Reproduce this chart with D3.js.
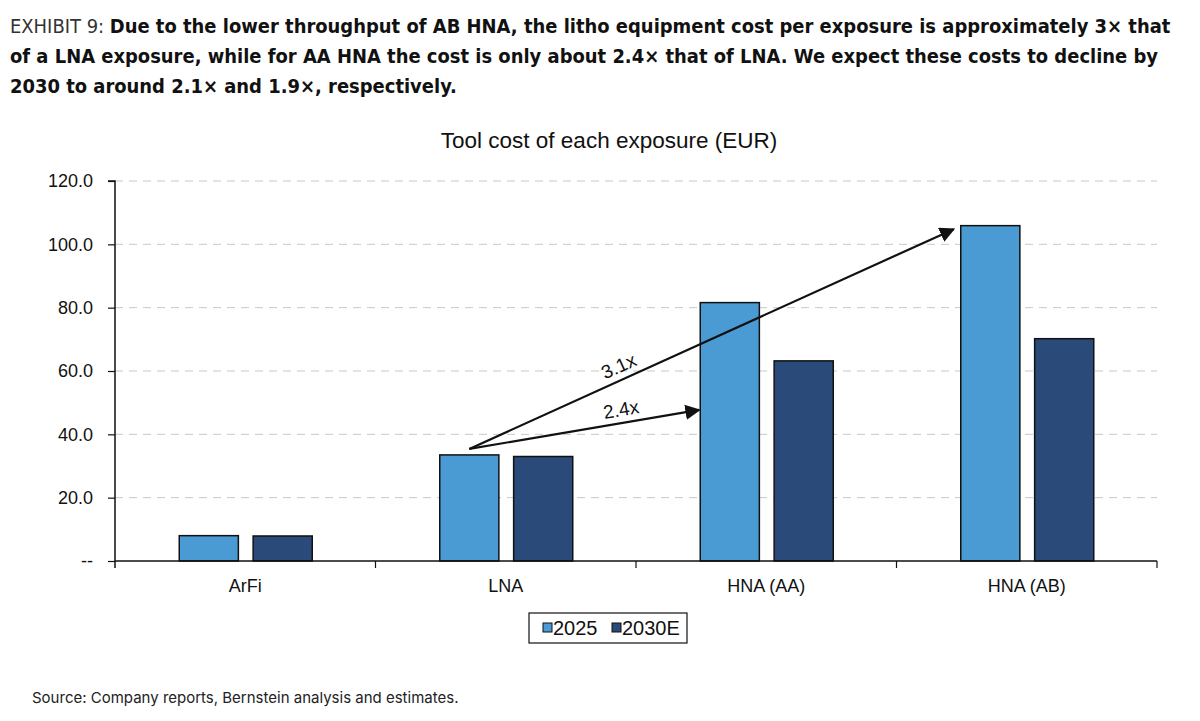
<!DOCTYPE html>
<html>
<head>
<meta charset="utf-8">
<script src="https://cdn.jsdelivr.net/npm/d3@7"></script>
<style>
  body { margin: 0; background: #fff; }
  svg { display: block; }
</style>
</head>
<body>
<svg width="1200" height="721"></svg>
<script>
const width = 1200, height = 721;
const svg = d3.select("svg");

// chart data
const categories = ["ArFi", "LNA", "HNA (AA)", "HNA (AB)"];
const seriesNames = ["2025", "2030E"];
const values2025 = [8.0, 33.5, 81.6, 105.9];
const values2030 = [7.9, 33.0, 63.2, 70.2];
const yTicks = [0, 20, 40, 60, 80, 100, 120];
const colors = ["#4a9bd3", "#2a4a7a"];

// annotation arrows: from LNA 2025 bar to the HNA 2025 bars
const arrows = [
    { label: "2.4x", fromCat: "LNA", fromVal: 35.4, toCat: "HNA (AA)", toVal: 47.7, gapPx: 1, at: 0.67 },
    { label: "3.1x", fromCat: "LNA", fromVal: 35.4, toCat: "HNA (AB)", toVal: 104.8, gapPx: 7, at: 0.32 }
];

const margin = { top: 181, left: 115, right: 43, bottom: 160 };
const plotW = width - margin.left - margin.right;
const plotH = height - margin.top - margin.bottom;
const arial = "Arial, 'Liberation Sans', sans-serif";

const x = d3.scaleBand().domain(categories).range([margin.left, margin.left + plotW]);
const x1 = d3.scaleBand().domain(seriesNames).range([x.bandwidth() / 2 - 66, x.bandwidth() / 2 + 67]).paddingInner(0.2);
const y = d3.scaleLinear().domain([0, 120]).range([margin.top + plotH, margin.top]);

// header, sized so each line fills its width in the reference
const headLines = [
    { y: 33, len: 1170, parts: [["EXHIBIT 9: ", 300, "#333"], ["Due to the lower throughput of AB HNA, the litho equipment cost per exposure is approximately 3\u00d7 that", 700, "#111"]] },
    { y: 63, len: 1158, parts: [["of a LNA exposure, while for AA HNA the cost is only about 2.4\u00d7 that of LNA. We expect these costs to decline by", 700, "#111"]] },
    { y: 93, len: 447, parts: [["2030 to around 2.1\u00d7 and 1.9\u00d7, respectively.", 700, "#111"]] }
];
const headTexts = headLines.map(l => {
    const t = svg.append("text")
        .attr("x", 10).attr("y", l.y)
        .attr("font-family", "'DejaVu Sans Condensed', 'DejaVu Sans', sans-serif")
        .attr("font-stretch", "condensed")
        .attr("font-size", 21);
    l.parts.forEach(p => {
        t.append("tspan").text(p[0]).attr("font-weight", p[1]).attr("fill", p[2]);
    });
    return t;
});
const headSize = d3.min(headTexts, (t, i) => 21 * headLines[i].len / t.node().getComputedTextLength());
headTexts.forEach(t => t.attr("font-size", headSize));

// chart title
svg.append("text")
    .attr("x", 609).attr("y", 148)
    .attr("text-anchor", "middle")
    .attr("font-family", arial)
    .attr("font-size", 22.5)
    .attr("fill", "#111")
    .text("Tool cost of each exposure (EUR)");

// gridlines
svg.append("g")
    .selectAll("line")
    .data(yTicks.filter(d => d > 0))
    .join("line")
    .attr("x1", margin.left).attr("x2", margin.left + plotW)
    .attr("y1", d => y(d)).attr("y2", d => y(d))
    .attr("stroke", "#c8c8c8")
    .attr("stroke-width", 1)
    .attr("stroke-dasharray", "8,6");

// y axis
const yAxis = svg.append("g")
    .attr("transform", `translate(${margin.left},0)`)
    .call(d3.axisLeft(y).tickValues(yTicks).tickSize(7).tickPadding(15)
        .tickFormat(d => d === 0 ? "--" : d3.format(".1f")(d)));
yAxis.select(".domain").attr("stroke", "#111").attr("stroke-width", 1.5).attr("d", `M-7,${y(120)}H0V${y(0) + 7}`);
yAxis.selectAll(".tick line").attr("stroke", "#111").attr("stroke-width", 1.2);
yAxis.selectAll(".tick text")
    .attr("font-family", arial)
    .attr("font-size", 18)
    .attr("fill", "#111");

// bars
const groups = svg.append("g")
    .selectAll("g")
    .data(categories.map((c, i) => ({ cat: c, vals: [values2025[i], values2030[i]] })))
    .join("g")
    .attr("transform", d => `translate(${x(d.cat)},0)`);

groups.selectAll("rect")
    .data(d => d.vals.map((v, j) => ({ s: seriesNames[j], v, j })))
    .join("rect")
    .attr("x", d => x1(d.s))
    .attr("width", x1.bandwidth())
    .attr("y", d => y(d.v))
    .attr("height", d => y(0) - y(d.v))
    .attr("fill", d => colors[d.j])
    .attr("stroke", "#111")
    .attr("stroke-width", 1.5);

// x axis
const xAxisG = svg.append("g").attr("transform", `translate(0,${y(0)})`);
xAxisG.append("line")
    .attr("x1", margin.left).attr("x2", margin.left + plotW)
    .attr("stroke", "#111").attr("stroke-width", 1.5);
xAxisG.selectAll(".sep")
    .data(categories.slice(1).map(c => x(c)).concat([margin.left + plotW]))
    .join("line")
    .attr("class", "sep")
    .attr("x1", d => d).attr("x2", d => d)
    .attr("y1", 0).attr("y2", 7)
    .attr("stroke", "#111").attr("stroke-width", 1.2);
xAxisG.selectAll("text")
    .data(categories)
    .join("text")
    .attr("x", d => x(d) + x.bandwidth() / 2)
    .attr("y", 31)
    .attr("text-anchor", "middle")
    .attr("font-family", arial)
    .attr("font-size", 18)
    .attr("fill", "#111")
    .text(d => d);

// arrows
svg.append("defs").append("marker")
    .attr("id", "arrowhead")
    .attr("viewBox", "0 0 10 10")
    .attr("refX", 9).attr("refY", 5)
    .attr("markerWidth", 7).attr("markerHeight", 7)
    .attr("markerUnits", "strokeWidth")
    .attr("orient", "auto")
    .append("path")
    .attr("d", "M0,0 L10,5 L0,10 Z")
    .attr("fill", "#111");

arrows.forEach(a => {
    const x0 = x(a.fromCat) + x1("2025") + x1.bandwidth() / 2;
    const y0 = y(a.fromVal);
    const xe = x(a.toCat) + x1("2025") - a.gapPx;
    const ye = y(a.toVal);
    svg.append("line")
        .attr("x1", x0).attr("y1", y0)
        .attr("x2", xe).attr("y2", ye)
        .attr("stroke", "#111")
        .attr("stroke-width", 2.2)
        .attr("marker-end", "url(#arrowhead)");
    const ang = Math.atan2(ye - y0, xe - x0) * 180 / Math.PI;
    const lx = x0 + (xe - x0) * a.at, ly = y0 + (ye - y0) * a.at;
    svg.append("text")
        .attr("transform", `translate(${lx},${ly}) rotate(${ang}) translate(0,-7)`)
        .attr("text-anchor", "middle")
        .attr("font-family", arial)
        .attr("font-size", 19)
        .attr("fill", "#111")
        .text(a.label);
});

// legend
const legend = svg.append("g").attr("transform", "translate(529,613)");
legend.append("rect")
    .attr("width", 158).attr("height", 30)
    .attr("fill", "#fff").attr("stroke", "#111").attr("stroke-width", 1.2);
const legendX = [14, 83];
seriesNames.forEach((s, i) => {
    legend.append("rect")
        .attr("x", legendX[i]).attr("y", 10)
        .attr("width", 9).attr("height", 9)
        .attr("fill", colors[i]).attr("stroke", "#111").attr("stroke-width", 1);
    legend.append("text")
        .attr("x", legendX[i] + 10).attr("y", 22)
        .attr("font-family", arial)
        .attr("font-size", 20)
        .attr("fill", "#111")
        .text(s);
});

// source
svg.append("text")
    .attr("x", 32).attr("y", 703)
    .attr("font-family", "Inter, 'Noto Sans', sans-serif")
    .attr("font-size", 15)
    .attr("fill", "#222")
    .text("Source: Company reports, Bernstein analysis and estimates.");
</script>
</body>
</html>
